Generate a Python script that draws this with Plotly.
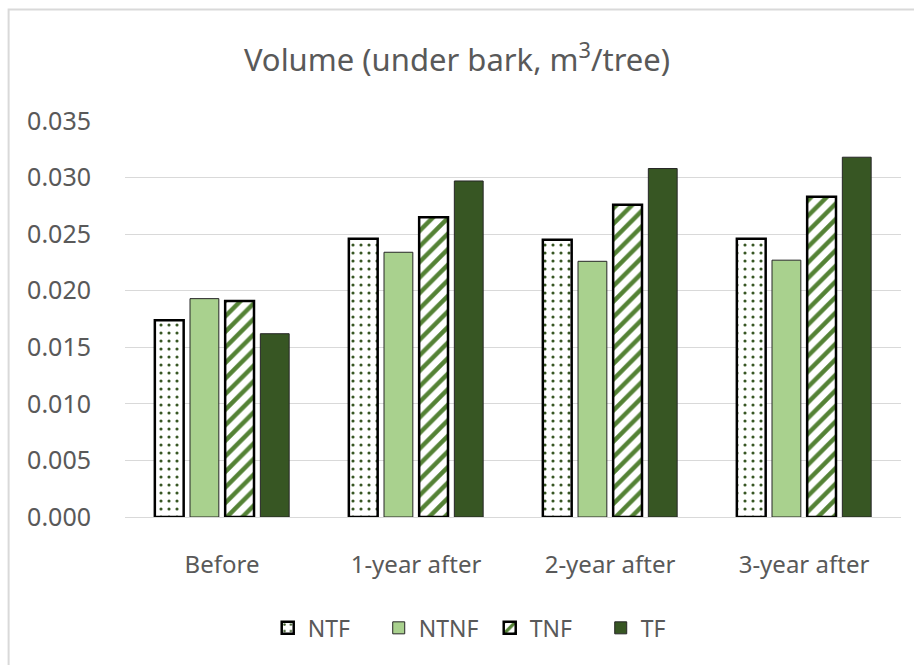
import plotly.graph_objects as go

categories = ["Before", "1-year after", "2-year after", "3-year after"]
series_names = ["NTF", "NTNF", "TNF", "TF"]
ntf = [0.0174, 0.0246, 0.0245, 0.0246]
ntnf = [0.0193, 0.0234, 0.0226, 0.0227]
tnf = [0.0191, 0.0265, 0.0276, 0.0283]
tf = [0.0162, 0.0297, 0.0308, 0.0318]
y_ticks = [0.000, 0.005, 0.010, 0.015, 0.020, 0.025, 0.030, 0.035]

FONT = "Noto Sans, Open Sans, sans-serif"
GREY = "#595959"

styles = {
    "NTF": dict(color="white", line=dict(color="black", width=2.5),
                pattern=dict(shape=".", fgcolor="#375623", bgcolor="white",
                             fgopacity=1, size=8, solidity=0.12)),
    "NTNF": dict(color="#a9d18e", line=dict(color="#262626", width=1)),
    "TNF": dict(color="white", line=dict(color="black", width=2.5),
                pattern=dict(shape="/", fgcolor="#548235", bgcolor="white",
                             fgopacity=1, size=11, solidity=0.4)),
    "TF": dict(color="#375623", line=dict(color="#262626", width=1)),
}

fig = go.Figure()
for name, vals in zip(series_names, [ntf, ntnf, tnf, tf]):
    fig.add_trace(go.Bar(name=name, x=categories, y=vals, marker=styles[name]))

fig.update_layout(
    width=914, height=665,
    margin=dict(l=125, r=13, t=121, b=148),
    paper_bgcolor="white", plot_bgcolor="white",
    barmode="group", bargap=0.275, bargroupgap=0.18,
    font=dict(family=FONT, color=GREY, size=22),
    title=dict(text="Volume (under bark, m<sup>3</sup>/tree)", x=0.5, xanchor="center",
               y=0.91, yanchor="middle", font=dict(size=31, color=GREY, family=FONT)),
    legend=dict(orientation="h", x=0.47, xanchor="center", y=-0.28, yanchor="middle",
                font=dict(size=23, color=GREY), itemwidth=30, traceorder="normal",
                entrywidth=66, entrywidthmode="pixels"),
    showlegend=True,
)
fig.update_xaxes(showline=True, linecolor="#d9d9d9", linewidth=1, ticks="",
                 tickfont=dict(size=24, color=GREY), ticklabelstandoff=26)
fig.update_yaxes(range=[0, 0.035], tickvals=y_ticks, tickformat=".3f",
                 showgrid=True, gridcolor="#d9d9d9", gridwidth=1, zeroline=False,
                 tickfont=dict(size=25, color=GREY), ticklabelstandoff=33)

# chart-area border (top and left edges)
fig.add_shape(type="path", xref="paper", yref="paper",
              path="M -0.150 -0.5 L -0.150 1.2816 L 1.1 1.2816",
              line=dict(color="#d9d9d9", width=2))

fig.write_html("out.html")
